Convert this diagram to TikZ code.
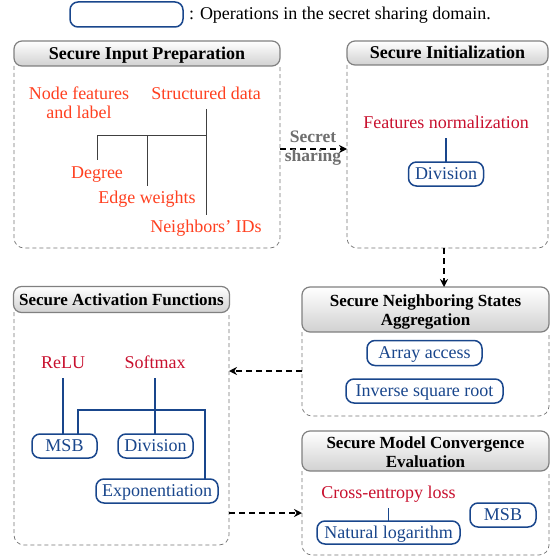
\documentclass[tikz,border=0pt]{standalone}
\usepackage{fontspec}
\setmainfont{Liberation Serif}
\usetikzlibrary{arrows.meta}
\definecolor{opblue}{RGB}{25,70,140}
\definecolor{inred}{RGB}{255,64,32}
\definecolor{crim}{RGB}{200,16,46}
\definecolor{labgray}{RGB}{110,110,110}
\newcommand{\pxfont}[1]{\fontsize{#1}{19}\selectfont}
\begin{document}
\begin{tikzpicture}[x=1pt,y=-1pt,
  every node/.style={inner sep=0pt, outer sep=0pt},
  titlebar/.style={draw=black!50, line width=1.2pt, rounded corners=8pt, top color=white, bottom color=black!18},
  titleA/.style={titlebar, font={\bfseries\pxfont{18}}, text height=11.9pt, text depth=0pt},
  titleB/.style={titlebar, font={\bfseries\pxfont{17}}, text height=11.25pt, text depth=0pt},
  titletext/.style={font={\bfseries\pxfont{17}}, align=center},
  bodyline/.style={draw=black!55, line width=0.7pt, dash pattern=on 4pt off 3pt, rounded corners=10pt},
  op/.style={draw=opblue, line width=1.5pt, rounded corners=8pt, text=opblue, font=\pxfont{18}, text height=11.9pt, text depth=0pt, minimum height=24pt},
  redin/.style={text=inred, font=\pxfont{18}},
  crimtxt/.style={text=crim, font=\pxfont{18}},
  tx/.style={text height=12.3pt, text depth=4pt},
  treeline/.style={draw=black!75, line width=1pt},
  opline/.style={draw=opblue, line width=1.5pt},
  flow/.style={draw=black, line width=1.5pt, dash pattern=on 6pt off 4pt, -{Stealth[length=8pt,width=8pt]}}
]
\useasboundingbox (0,0) rectangle (556,559);

% legend
\node[op, minimum width=113pt, minimum height=25pt] (leg) at (126.5,14.5) {};
\node[font=\pxfont{18}, anchor=base west] (legt) at (189,19.5) {: Operations in the secret sharing domain.};

% box 1
\node[minimum width=266pt, minimum height=182pt] (b1) at (147,157) {};
\draw[bodyline] (b1.north west) |- (b1.south east) -- (b1.north east);
\node[titleA, minimum width=266pt, minimum height=25pt] (t1) at (147,53.5) {Secure Input Preparation};
\node[redin, align=center] (nf) at (79,102.7) {Node features\\and label};
\node[redin, tx, anchor=base] (sd) at (206,99.3) {Structured data};
\node[redin, tx, anchor=base] (deg) at (97,178.3) {Degree};
\node[redin, tx, anchor=base] (ew) at (147,203.3) {Edge weights};
\node[redin, tx, anchor=base] (nb) at (206,232.7) {Neighbors’ IDs};
\coordinate (j1) at (206,135);
\draw[treeline, shorten <=5.7pt, shorten >=5pt] (sd.south) -- (nb.north);
\draw[treeline, shorten >=5.8pt] (j1) -| (deg.north);
\draw[treeline, shorten >=4.8pt] (ew.north |- j1) -- (ew.north);

% box 2
\node[minimum width=201pt, minimum height=183pt] (b2) at (447.5,156.5) {};
\draw[bodyline] (b2.north west) |- (b2.south east) -- (b2.north east);
\node[titleA, minimum width=201pt, minimum height=24pt] (t2) at (447.5,53) {Secure Initialization};
\node[crimtxt, tx, anchor=base] (fn) at (446,128.3) {Features normalization};
\node[op, minimum width=75pt] (div1) at (446,174) {Division};
\draw[opline, shorten <=5.7pt] (fn.south) -- (div1.north);

% secret sharing arrow
\coordinate (ss) at (313,149);
\draw[flow] (b1.east |- ss) -- (b2.west |- ss);
\node[font={\bfseries\pxfont{17.5}}, text=labgray, align=center] (ssl) at (313,147.7) {Secret\\sharing};

% box 3
\node[minimum width=247pt, minimum height=84pt] (b3) at (425.5,374) {};
\draw[bodyline] (b3.north west) |- (b3.south east) -- (b3.north east);
\node[titlebar, minimum width=247pt, minimum height=45pt] (t3) at (425.5,309.5) {};
\node[titletext] (t3l) at (425.5,311.5) {Secure Neighboring States\\Aggregation};
\node[op, minimum width=115pt, minimum height=25pt] (aa) at (424.5,353) {Array access};
\node[op, minimum width=157pt] (isr) at (424.5,391) {Inverse square root};

% arrow b2 -> b3
\coordinate (da) at ([xshift=-3.5pt]b2.south);
\draw[flow] (da) -- (da |- t3.north);

% box 4
\node[minimum width=215pt, minimum height=233pt] (b4) at (121.5,428.5) {};
\draw[bodyline] (b4.north west) |- (b4.south east) -- (b4.north east);
\node[titleB, minimum width=216pt, minimum height=26pt] (t4) at (121.5,299.5) {Secure Activation Functions};
\node[crimtxt, tx, anchor=base] (relu) at (63,368) {ReLU};
\node[crimtxt, tx, anchor=base] (smax) at (155,368) {Softmax};
\node[op, minimum width=65pt] (msb1) at (64.5,446) {MSB};
\node[op, minimum width=75pt] (div2) at (155.5,446) {Division};
\node[op, minimum width=122pt] (exp) at (157,491) {Exponentiation};
\draw[opline, shorten <=6pt] (relu.south) -- (relu.south |- msb1.north);
\draw[opline, shorten <=6pt] (smax.south) -- (smax.south |- div2.north);
\coordinate (br) at (205,410);
\coordinate (mb) at ([xshift=13.5pt]msb1.north);
\draw[opline] (mb) |- (br) -- (br |- exp.north);

% box 5
\node[minimum width=247pt, minimum height=84pt] (b5) at (425.5,513) {};
\draw[bodyline] (b5.north west) |- (b5.south east) -- (b5.north east);
\node[titlebar, minimum width=247pt, minimum height=40pt] (t5) at (425.5,451) {};
\node[titletext] (t5l) at (425.5,452) {Secure Model Convergence\\Evaluation};
\node[crimtxt, tx, anchor=base] (cel) at (388.5,498.3) {Cross-entropy loss};
\node[op, minimum width=143pt, minimum height=23pt] (nl) at (388.5,532.5) {Natural logarithm};
\node[op, minimum width=66pt] (msb2) at (503,515) {MSB};
\draw[opline, shorten <=5.7pt] (cel.south) -- (nl.north);

% flow arrows between boxes
\coordinate (a1) at ([yshift=3pt]b3.west);
\draw[flow] (a1) -- (a1 -| b4.east);
\draw[flow] (b5.west -| b4.east) -- (b5.west);
\end{tikzpicture}
\end{document}
